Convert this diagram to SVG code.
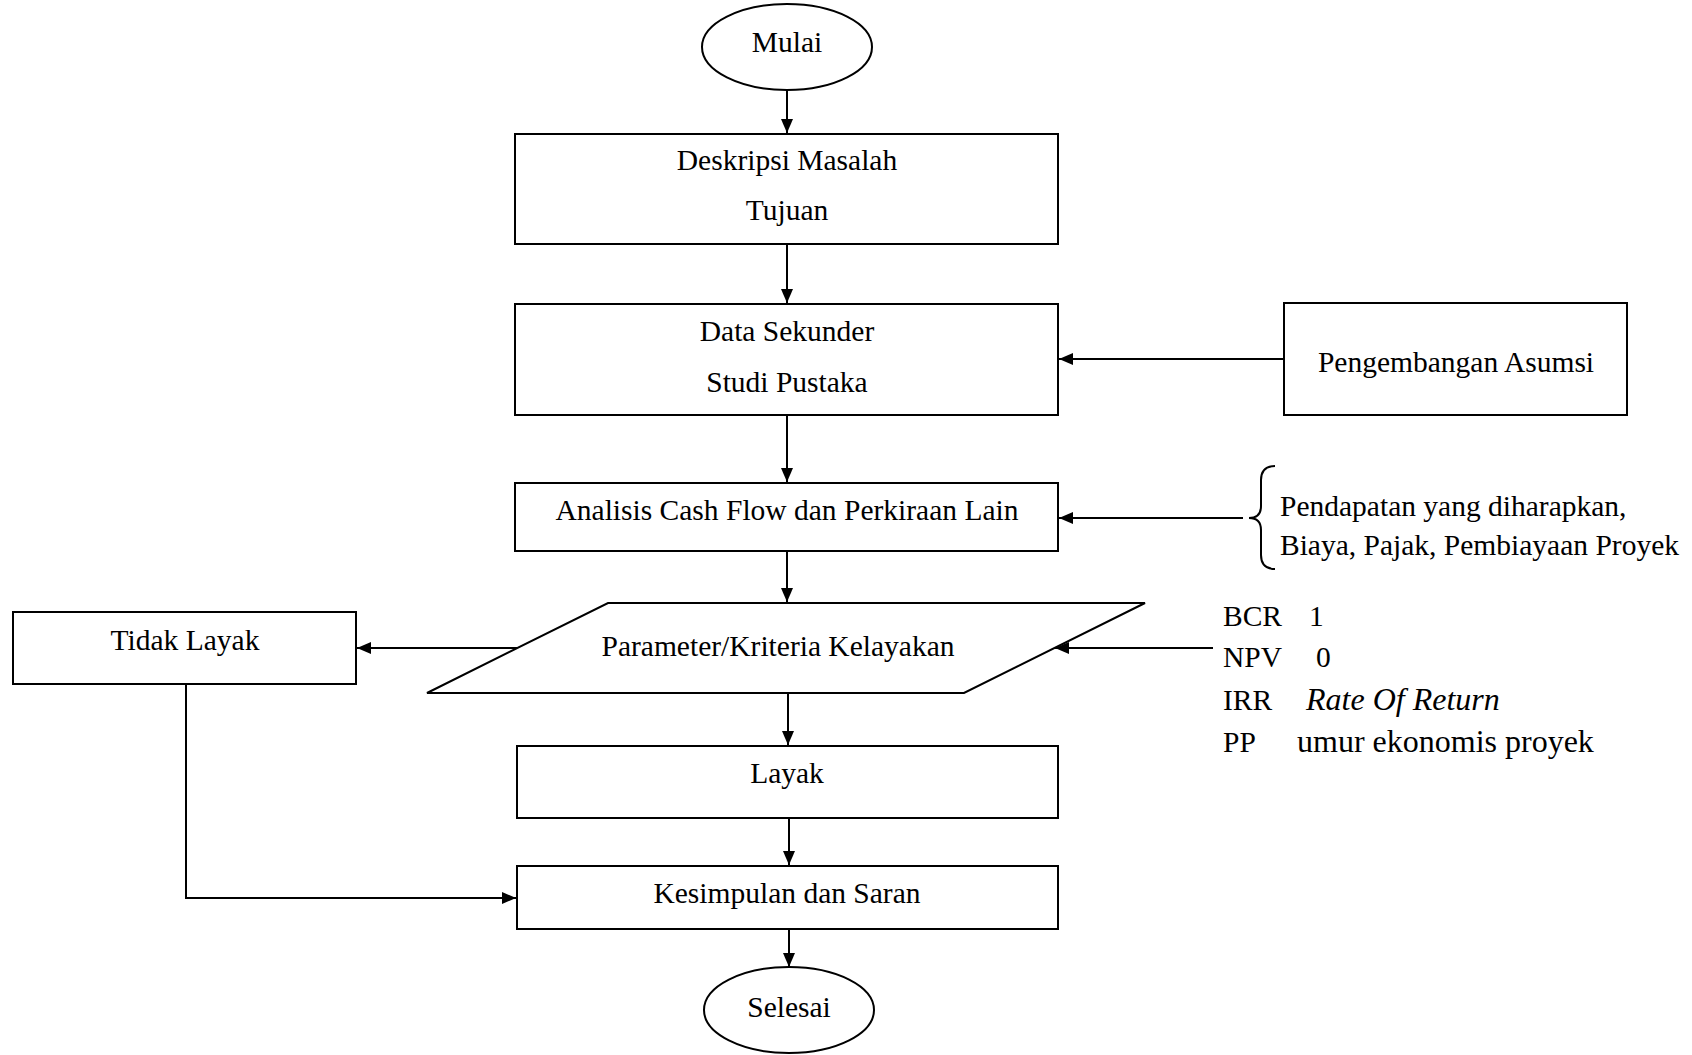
<svg xmlns="http://www.w3.org/2000/svg" width="1692" height="1055" viewBox="0 0 1692 1055">
<defs>
<marker id="arr" markerWidth="14" markerHeight="12" refX="14" refY="6" orient="auto" markerUnits="userSpaceOnUse">
<path d="M0,0 L14,6 L0,12 Z" fill="#000"/>
</marker>
<style>
.s{fill:#fff;stroke:#000;stroke-width:2}
.t{font-family:"Liberation Serif","Times New Roman",serif;font-size:29.5px;fill:#000}
.c{text-anchor:middle}
.b{font-size:32px}
.l{fill:none;stroke:#000;stroke-width:2}
</style>
</defs>
<rect width="1692" height="1055" fill="#fff"/>
<g id="connectors">
<line class="l" x1="787" y1="90" x2="787" y2="133" marker-end="url(#arr)"/>
<line class="l" x1="787" y1="244" x2="787" y2="303" marker-end="url(#arr)"/>
<line class="l" x1="1284" y1="359" x2="1059" y2="359" marker-end="url(#arr)"/>
<line class="l" x1="787" y1="415" x2="787" y2="482" marker-end="url(#arr)"/>
<line class="l" x1="1243" y1="518" x2="1059" y2="518" marker-end="url(#arr)"/>
<line class="l" x1="787" y1="551" x2="787" y2="602" marker-end="url(#arr)"/>
<line class="l" x1="517" y1="648" x2="357" y2="648" marker-end="url(#arr)"/>
<line class="l" x1="1213" y1="648" x2="1055" y2="648" marker-end="url(#arr)"/>
<line class="l" x1="788" y1="693" x2="788" y2="745" marker-end="url(#arr)"/>
<line class="l" x1="789" y1="818" x2="789" y2="865" marker-end="url(#arr)"/>
<polyline class="l" points="186,684 186,898 516,898" marker-end="url(#arr)"/>
<line class="l" x1="789" y1="929" x2="789" y2="967" marker-end="url(#arr)"/>
<path class="l" d="M1275,466 Q1261,466 1261,480 L1261,506 Q1261,518 1249,518 Q1261,518 1261,530 L1261,555 Q1261,569 1275,569"/>
</g>
<g id="mulai">
<ellipse class="s" cx="787" cy="47" rx="85" ry="43"/>
<text class="t c" x="787" y="52">Mulai</text>
</g>
<g id="deskripsi">
<rect class="s" x="515" y="134" width="543" height="110"/>
<text class="t c" x="787" y="170">Deskripsi Masalah</text>
<text class="t c" x="787" y="220">Tujuan</text>
</g>
<g id="data">
<rect class="s" x="515" y="304" width="543" height="111"/>
<text class="t c" x="787" y="341">Data Sekunder</text>
<text class="t c" x="787" y="392">Studi Pustaka</text>
</g>
<g id="asumsi">
<rect class="s" x="1284" y="303" width="343" height="112"/>
<text class="t c" x="1456" y="372">Pengembangan Asumsi</text>
</g>
<g id="analisis">
<rect class="s" x="515" y="483" width="543" height="68"/>
<text class="t c" x="787" y="520">Analisis Cash Flow dan Perkiraan Lain</text>
</g>
<g id="input-analisis">
<text class="t" x="1280" y="516">Pendapatan yang diharapkan,</text>
<text class="t" x="1280" y="555">Biaya, Pajak, Pembiayaan Proyek</text>
</g>
<g id="parameter">
<polygon class="s" points="608,603 1145,603 964,693 427,693"/>
<text class="t c" x="778" y="656">Parameter/Kriteria Kelayakan</text>
</g>
<g id="kriteria">
<text class="t" x="1223" y="626">BCR</text><text class="t" x="1309" y="626">1</text>
<text class="t" x="1223" y="667">NPV</text><text class="t" x="1316" y="667">0</text>
<text class="t" x="1223" y="710">IRR</text><text class="t b" x="1306" y="710" font-style="italic">Rate Of Return</text>
<text class="t" x="1223" y="752">PP</text><text class="t b" x="1297" y="752">umur ekonomis proyek</text>
</g>
<g id="tidak-layak">
<rect class="s" x="13" y="612" width="343" height="72"/>
<text class="t c" x="185" y="650">Tidak Layak</text>
</g>
<g id="layak">
<rect class="s" x="517" y="746" width="541" height="72"/>
<text class="t c" x="787" y="783">Layak</text>
</g>
<g id="kesimpulan">
<rect class="s" x="517" y="866" width="541" height="63"/>
<text class="t c" x="787" y="903">Kesimpulan dan Saran</text>
</g>
<g id="selesai">
<ellipse class="s" cx="789" cy="1010" rx="85" ry="43"/>
<text class="t c" x="789" y="1017">Selesai</text>
</g>
</svg>
